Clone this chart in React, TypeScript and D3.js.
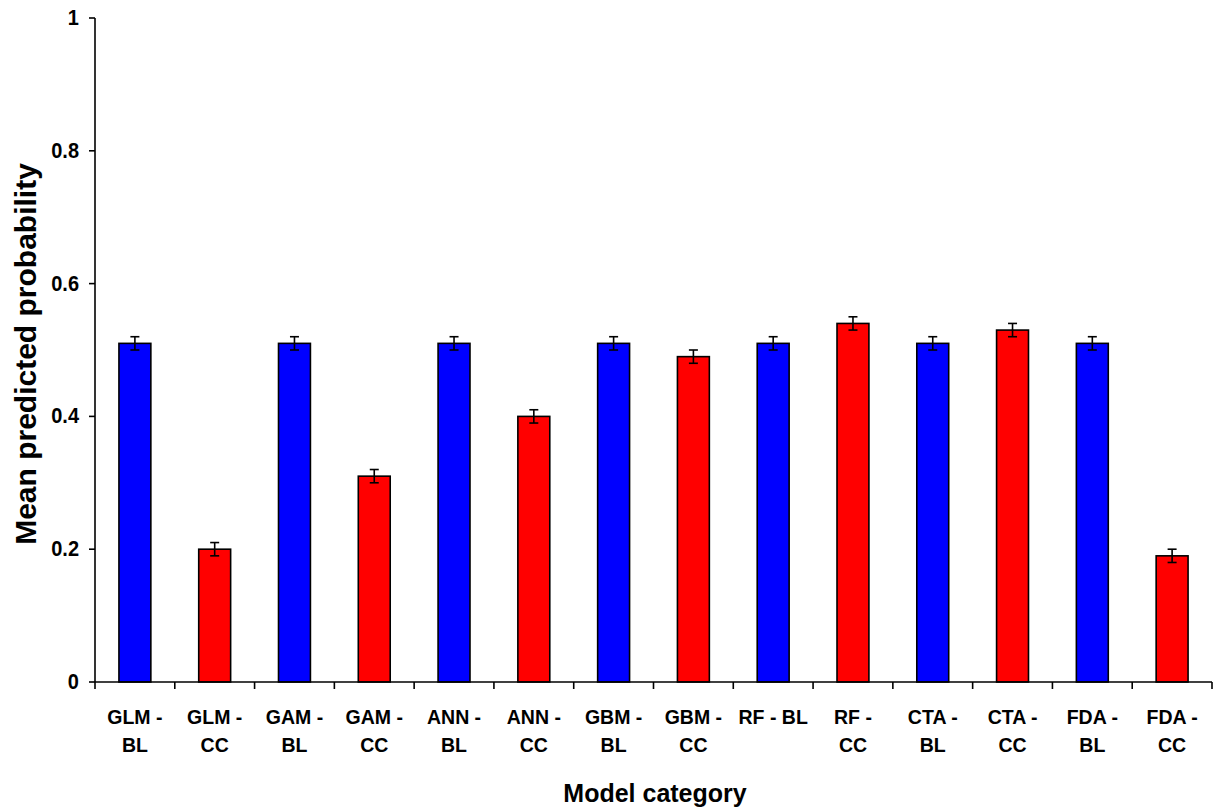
import React, { useEffect, useRef } from 'react'
import * as d3 from 'd3'

const categories = [
    'GLM - BL', 'GLM - CC', 'GAM - BL', 'GAM - CC', 'ANN - BL', 'ANN - CC', 'GBM - BL',
    'GBM - CC', 'RF - BL', 'RF - CC', 'CTA - BL', 'CTA - CC', 'FDA - BL', 'FDA - CC',
]
const tickLines = [
    ['GLM -', 'BL'], ['GLM -', 'CC'], ['GAM -', 'BL'], ['GAM -', 'CC'], ['ANN -', 'BL'],
    ['ANN -', 'CC'], ['GBM -', 'BL'], ['GBM -', 'CC'], ['RF - BL'], ['RF -', 'CC'],
    ['CTA -', 'BL'], ['CTA -', 'CC'], ['FDA -', 'BL'], ['FDA -', 'CC'],
]
const values = [0.51, 0.2, 0.51, 0.31, 0.51, 0.4, 0.51, 0.49, 0.51, 0.54, 0.51, 0.53, 0.51, 0.19]
const errors = [0.01, 0.01, 0.01, 0.01, 0.01, 0.01, 0.01, 0.01, 0.01, 0.01, 0.01, 0.01, 0.01, 0.01]
const yTicks = [0, 0.2, 0.4, 0.6, 0.8, 1]

const width = 1218
const height = 811
const left = 95
const right = 1212
const top = 18
const bottom = 682
const font = '"Liberation Sans", Arial, sans-serif'

function App() {
    const svgRef = useRef<SVGSVGElement>(null)

    useEffect(() => {
        const svg = d3.select(svgRef.current)
        svg.selectAll('*').remove()

        const x = d3.scaleBand().domain(categories).range([left, right]).paddingInner(0).paddingOuter(0)
        const y = d3.scaleLinear().domain([0, 1]).range([bottom, top])
        const bw = x.bandwidth() * 0.4
        const cx = (c: string) => x(c)! + x.bandwidth() / 2

        const data = categories.map((c, i) => ({ c, v: values[i], e: errors[i], cc: c.endsWith('CC') }))

        // bars
        svg.append('g')
            .selectAll('rect')
            .data(data)
            .join('rect')
            .attr('x', d => cx(d.c) - bw / 2)
            .attr('y', d => y(d.v))
            .attr('width', bw)
            .attr('height', d => y(0) - y(d.v))
            .attr('fill', d => (d.cc ? '#ff0000' : '#0000ff'))
            .attr('stroke', '#000')
            .attr('stroke-width', 1.6)

        // error bars
        const eb = svg.append('g').attr('stroke', '#000').attr('stroke-width', 1.6)
            .selectAll('g').data(data).join('g')
            .attr('transform', d => `translate(${cx(d.c)},0)`)
        eb.append('line').attr('y1', d => y(d.v + d.e)).attr('y2', d => y(d.v - d.e))
        eb.append('line').attr('x1', -4.5).attr('x2', 4.5).attr('y1', d => y(d.v + d.e)).attr('y2', d => y(d.v + d.e))
        eb.append('line').attr('x1', -4.5).attr('x2', 4.5).attr('y1', d => y(d.v - d.e)).attr('y2', d => y(d.v - d.e))

        // y axis
        const ya = svg.append('g').attr('transform', `translate(${left},0)`)
        ya.append('line').attr('y1', top).attr('y2', bottom).attr('stroke', '#000').attr('stroke-width', 1.6)
        const yt = ya.selectAll('g.tick').data(yTicks).join('g').attr('class', 'tick')
            .attr('transform', d => `translate(0,${y(d)})`)
        yt.append('line').attr('x1', -6).attr('x2', 0).attr('stroke', '#000').attr('stroke-width', 1.6)
        yt.append('text')
            .attr('transform', 'translate(-16,7) scale(1,1.12)')
            .attr('text-anchor', 'end')
            .attr('font-family', font)
            .attr('font-weight', 'bold')
            .attr('font-size', 20)
            .text(d => String(d))

        // x axis
        const xa = svg.append('g').attr('transform', `translate(0,${bottom})`)
        xa.append('line').attr('x1', left).attr('x2', right).attr('stroke', '#000').attr('stroke-width', 1.6)
        xa.selectAll('.tk')
            .data(d3.range(categories.length + 1))
            .join('line')
            .attr('class', 'tk')
            .attr('x1', i => left + i * x.step())
            .attr('x2', i => left + i * x.step())
            .attr('y1', 0)
            .attr('y2', 7)
            .attr('stroke', '#000')
            .attr('stroke-width', 1.6)
        const labels = xa.selectAll('g.lbl')
            .data(data)
            .join('g')
            .attr('class', 'lbl')
            .attr('transform', d => `translate(${cx(d.c)},0)`)
        labels.selectAll('text')
            .data((d, i) => tickLines[i].map((t, j) => ({ t, j })))
            .join('text')
            .attr('transform', d => `translate(0,${42 + d.j * 28}) scale(1,1.08)`)
            .attr('text-anchor', 'middle')
            .attr('font-family', font)
            .attr('font-weight', 'bold')
            .attr('font-size', 19.5)
            .text(d => d.t)

        // titles
        svg.append('text')
            .attr('x', 655)
            .attr('y', 802)
            .attr('text-anchor', 'middle')
            .attr('font-family', font)
            .attr('font-weight', 'bold')
            .attr('font-size', 25)
            .text('Model category')
        svg.append('text')
            .attr('transform', `translate(36,354) rotate(-90)`)
            .attr('text-anchor', 'middle')
            .attr('font-family', font)
            .attr('font-weight', 'bold')
            .attr('font-size', 30)
            .text('Mean predicted probability')
    }, [])

    return (
        <svg
            ref={svgRef}
            width={width}
            height={height}
            style={{ position: 'absolute', left: 0, top: 0, background: '#fff' }}
        ></svg>
    )
}

export default App
